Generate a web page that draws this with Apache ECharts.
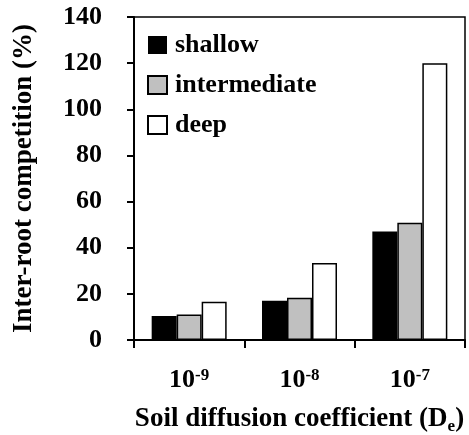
<!DOCTYPE html>
<html>
<head>
<meta charset="utf-8">
<style>
  html, body { margin: 0; padding: 0; background: #fff; }
  #chart { width: 469px; height: 435px; }
</style>
<script src="https://cdn.jsdelivr.net/npm/echarts@6/dist/echarts.min.js"></script>
</head>
<body>
<div id="chart"></div>
<script>
// Diffusion coefficient categories (exponent shown as superscript)
const categories = ['-9', '-8', '-7'];
const seriesNames = ['shallow', 'intermediate', 'deep'];
const shallow = [10.4, 17.0, 47.0];
const intermediate = [11.1, 18.3, 50.8];
const deep = [16.6, 33.4, 120.0];
const yTicks = [0, 20, 40, 60, 80, 100, 120, 140];

const FONT = "'Liberation Serif', 'Times New Roman', serif";
const colors = ['#000000', '#c0c0c0', '#ffffff'];
const values = [shallow, intermediate, deep];

const chart = echarts.init(document.getElementById('chart'), null, { renderer: 'canvas' });

chart.setOption({
  animation: false,
  backgroundColor: '#ffffff',
  grid: {
    left: 134, right: 4, top: 17, bottom: 95,
    outerBoundsMode: 'none',
    containLabel: false,
    show: true, borderColor: '#000', borderWidth: 1.5, backgroundColor: 'transparent'
  },
  legend: {
    orient: 'vertical',
    left: 142, top: 27,
    icon: 'rect',
    itemWidth: 19, itemHeight: 18, itemGap: 14,
    textStyle: { fontFamily: FONT, fontWeight: 'bold', fontSize: 26, color: '#000', padding: [0, 0, 0, 3] },
    data: seriesNames
  },
  xAxis: {
    type: 'category',
    data: categories,
    axisLine: { lineStyle: { color: '#000', width: 2 } },
    axisTick: { show: true, length: 8, lineStyle: { color: '#000', width: 2 } },
    axisLabel: {
      margin: 27,
      formatter: v => '{b|10}{s|' + v + '}',
      rich: {
        b: { fontFamily: FONT, fontWeight: 'bold', fontSize: 26, color: '#000', verticalAlign: 'bottom', lineHeight: 26 },
        s: { fontFamily: FONT, fontWeight: 'bold', fontSize: 17, color: '#000', verticalAlign: 'top', lineHeight: 26, padding: [0, 0, 10, 0] }
      }
    },
    name: '{t|Soil diffusion coefficient (D}{sub|e}{t|)}',
    nameLocation: 'middle',
    nameGap: 64,
    nameTextStyle: {
      rich: {
        t: { fontFamily: FONT, fontWeight: 'bold', fontSize: 27, color: '#000' },
        sub: { fontFamily: FONT, fontWeight: 'bold', fontSize: 17, color: '#000', padding: [14, 0, 0, 0] }
      }
    }
  },
  yAxis: {
    type: 'value',
    min: 0, max: 140, interval: 20,
    splitLine: { show: false },
    axisLine: { show: true, lineStyle: { color: '#000', width: 2 } },
    axisTick: { show: true, length: 7, lineStyle: { color: '#000', width: 2 } },
    axisLabel: {
      margin: 32,
      fontFamily: FONT, fontWeight: 'bold', fontSize: 26, color: '#000',
      formatter: v => (yTicks.includes(v) ? String(v) : '')
    },
    name: 'Inter-root competition (%)',
    nameLocation: 'middle',
    nameGap: 96,
    nameTextStyle: { fontFamily: FONT, fontWeight: 'bold', fontSize: 27, color: '#000' }
  },
  series: seriesNames.map((name, i) => ({
    name,
    type: 'bar',
    data: values[i],
    barWidth: 25,
    barGap: '0%',
    itemStyle: { color: colors[i], borderColor: '#000', borderWidth: i === 0 ? 0 : 1.5 }
  }))
});
</script>
</body>
</html>
